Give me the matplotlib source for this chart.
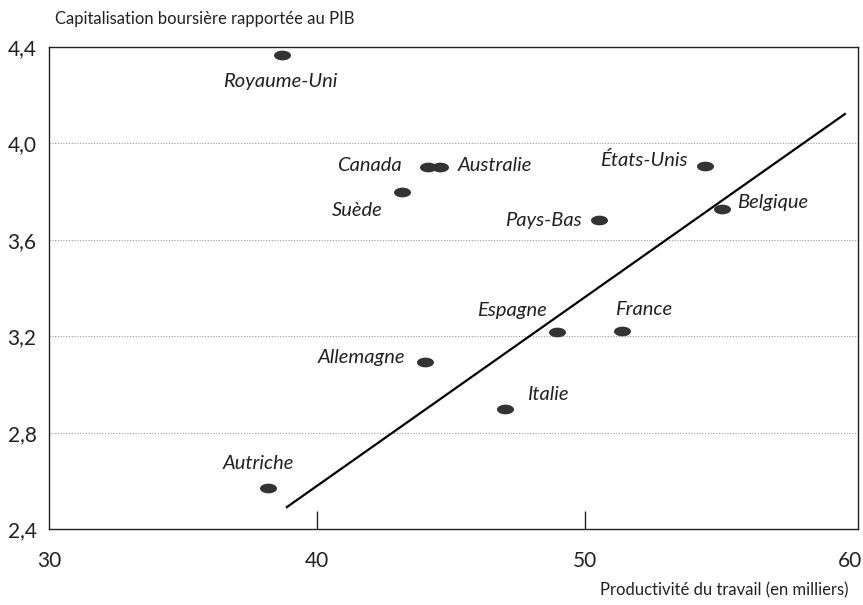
import matplotlib.pyplot as plt
from matplotlib.path import Path
from matplotlib.transforms import Affine2D, ScaledTranslation
from matplotlib.ticker import FuncFormatter

# Données
pays = ["Royaume-Uni", "Canada", "Australie", "Suède", "Pays-Bas", "États-Unis",
        "Belgique", "Espagne", "France", "Allemagne", "Italie", "Autriche"]
productivite = [38.70, 44.15, 44.60, 43.18, 50.53, 54.49,
                55.12, 48.96, 51.39, 44.04, 47.02, 38.17]
capitalisation = [4.367, 3.902, 3.902, 3.798, 3.682, 3.906,
                  3.728, 3.217, 3.222, 3.093, 2.898, 2.570]

# droite de tendance (extrémités)
tendance_x = [38.88, 59.71]
tendance_y = [2.491, 4.122]

x_ticks = [30, 40, 50, 60]
y_ticks = [2.4, 2.8, 3.2, 3.6, 4.0, 4.4]
grille = [2.8, 3.2, 3.6, 4.0]

# position des étiquettes (décalage en pixels, alignement)
decalages = {
    "Royaume-Uni": (-2, -27, "center"),
    "Canada": (-26, 2, "right"),
    "Australie": (18, 2, "left"),
    "Suède": (-19, -18, "right"),
    "Pays-Bas": (-17, 0, "right"),
    "États-Unis": (-18, 6, "right"),
    "Belgique": (15, 6, "left"),
    "Espagne": (-10, 22, "right"),
    "France": (-7, 21, "left"),
    "Allemagne": (-20, 4, "right"),
    "Italie": (22, 14, "left"),
    "Autriche": (-10, 25, "center"),
}

plt.rcParams['font.family'] = ['Lato', 'DejaVu Sans']

fig = plt.figure(figsize=(8.63, 6.05), dpi=100)
ax = fig.add_axes([0.0568, 0.1256, 0.9374, 0.7967])

# marqueur elliptique
ellipse = Path.unit_circle().transformed(Affine2D().scale(1.75, 1.0))

ax.plot(tendance_x, tendance_y, color='black', lw=1.6, zorder=2)
ax.scatter(productivite, capitalisation, marker=ellipse, s=150,
           color='#333333', zorder=3, linewidths=0)

for nom, x, y in zip(pays, productivite, capitalisation):
    dx, dy, ha = decalages[nom]
    ax.annotate(nom, (x, y), xytext=(dx, dy), textcoords='offset pixels',
                ha=ha, va='center', fontsize=14.5, style='italic', color='#222222')

ax.set_xlim(30, 60.2)
ax.set_ylim(2.4, 4.4)
ax.set_xticks(x_ticks)
ax.set_yticks(y_ticks)
ax.yaxis.set_major_formatter(FuncFormatter(lambda v, p: f"{v:.1f}".replace('.', ',')))

for v in grille:
    ax.axhline(v, color='#999999', lw=0.8, ls=(0, (1, 1.5)), zorder=1)

ax.tick_params(axis='x', direction='in', length=13, width=1, pad=16,
               labelsize=15, colors='#222222')
ax.tick_params(axis='y', length=0, pad=9, labelsize=15, colors='#222222')
# pas de marque aux extrémités de l'axe
xt = ax.xaxis.get_major_ticks()
xt[0].tick1line.set_visible(False)
xt[-1].tick1line.set_visible(False)
# léger recul du dernier libellé pour qu'il tienne dans l'image
lbl = ax.get_xticklabels()[-1]
lbl.set_transform(lbl.get_transform() + ScaledTranslation(-3 / 100, 0, fig.dpi_scale_trans))

for s in ax.spines.values():
    s.set_linewidth(1.0)
    s.set_color('#222222')

fig.text(55 / 863, 1 - 19 / 605, "Capitalisation boursière rapportée au PIB",
         ha='left', va='center', fontsize=12, color='#222222')
fig.text(848 / 863, 1 - 590 / 605, "Productivité du travail (en milliers)",
         ha='right', va='center', fontsize=12, color='#222222')

fig.savefig('out.png', dpi=100)
